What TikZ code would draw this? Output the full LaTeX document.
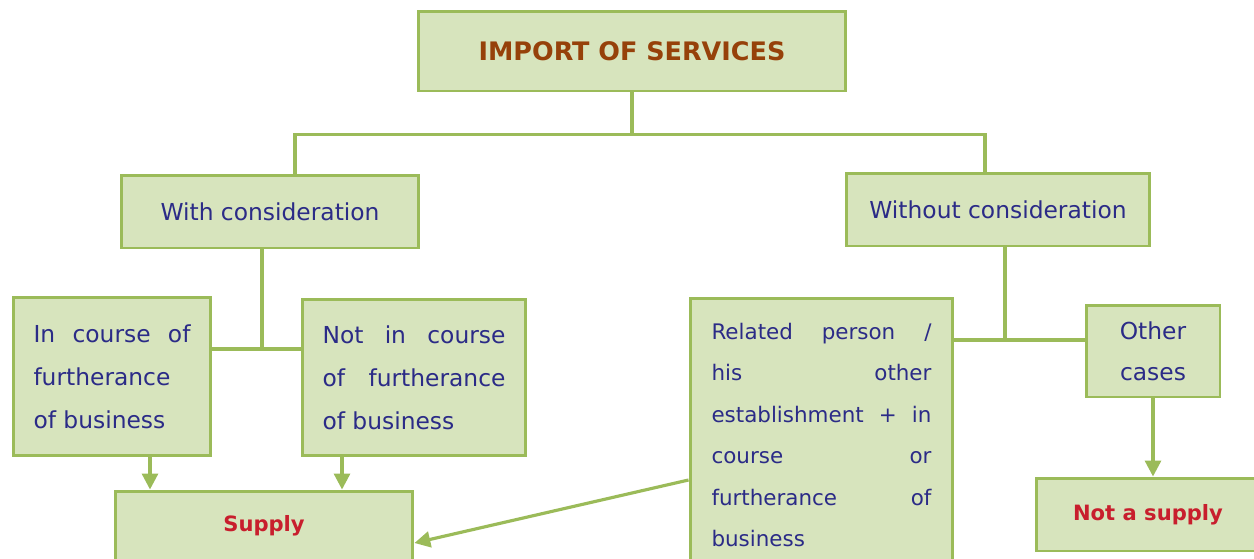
\documentclass[tikz,border=0pt]{standalone}
\usepackage{fontspec}
\setmainfont{DejaVu Sans}
\usetikzlibrary{arrows.meta}
\definecolor{gstgreen}{RGB}{155, 187, 89}
\definecolor{gstfill}{RGB}{215, 228, 189}
\definecolor{gstnavy}{RGB}{43, 43, 135}
\definecolor{gstbrown}{RGB}{150, 65, 10}
\definecolor{gstred}{RGB}{200, 30, 45}
\tolerance=9999
\hyphenpenalty=10000
\begin{document}
\begin{tikzpicture}[x=0.02cm, y=-0.02cm,
    box/.style={draw=gstgreen, line width=1.7pt, rectangle, fill=gstfill, text=gstnavy, font=\fontsize{13.3}{24.4}\selectfont},
    link/.style={draw=gstgreen, line width=1.8pt},
    flow/.style={link, -{Triangle[length=9pt, width=9pt]}}]
    \useasboundingbox (0,0) rectangle (1254,558);
    \clip (0,0) rectangle (1254,558);
    \node[box, minimum width=8.56cm, minimum height=1.6cm, text=gstbrown, font=\fontsize{14.5}{16}\selectfont\bfseries] (imp) at (632,51) {IMPORT OF SERVICES};
    \node[box, minimum width=5.96cm, minimum height=1.46cm] (wc) at (270,211.5) {With consideration};
    \node[box, minimum width=6.08cm, minimum height=1.46cm] (woc) at (998,209.5) {Without consideration};
    \node[box, text width=3.14cm, inner xsep=0.41cm, align=justify, minimum height=3.18cm] (inc) at (112,376.5) {In course of\linebreak furtherance\linebreak of business};
    \node[box, text width=3.66cm, inner xsep=0.41cm, align=justify, minimum height=3.14cm] (nic) at (414,377.5) {Not in course\linebreak of furtherance\linebreak of business};
    \node[box, text width=4.4cm, inner xsep=0.43cm, align=justify, minimum height=5.48cm, font=\fontsize{12.2}{23.6}\selectfont] (rel) at (821.5,435) {Related person /\linebreak his other\linebreak establishment + in\linebreak course or\linebreak furtherance of\linebreak business};
    \node[box, minimum width=2.68cm, minimum height=1.84cm, align=center, font=\fontsize{13.3}{23.2}\selectfont] (oth) at (1153,351) {Other\\cases};
    \node[box, minimum width=4.48cm, minimum height=1.46cm, text=gstred, font=\fontsize{12}{14}\selectfont\bfseries] (nas) at (1148,514.5) {Not a supply};
    \node[box, minimum width=5.96cm, minimum height=1.4cm, text=gstred, font=\fontsize{12}{14}\selectfont\bfseries] (sup) at (264,526) {Supply};
    \draw[link] (imp.south) -- ++(0,42) coordinate (split);
    \draw[link] ([xshift=0.5cm]wc.north) |- (split) -| ([xshift=-0.26cm]woc.north);
    \coordinate (wcj) at (262,349);
    \draw[link] (wc.south -| wcj) -- (wcj);
    \draw[link] (inc.east |- wcj) -- (nic.west |- wcj);
    \coordinate (wocj) at (1005,340);
    \draw[link] (woc.south -| wocj) -- (wocj);
    \draw[link] (rel.east |- wocj) -- (oth.west |- wocj);
    \coordinate (incdown) at ([xshift=0.76cm]inc.south);
    \coordinate (nicdown) at ([xshift=-1.44cm]nic.south);
    \draw[flow] (incdown) -- (incdown |- sup.north);
    \draw[flow] (nicdown) -- (nicdown |- sup.north);
    \draw[flow] (oth.south) -- (oth.south |- nas.north);
    \draw[flow] ([yshift=-0.9cm]rel.west) -- ([yshift=-0.34cm]sup.east);
\end{tikzpicture}
\end{document}
